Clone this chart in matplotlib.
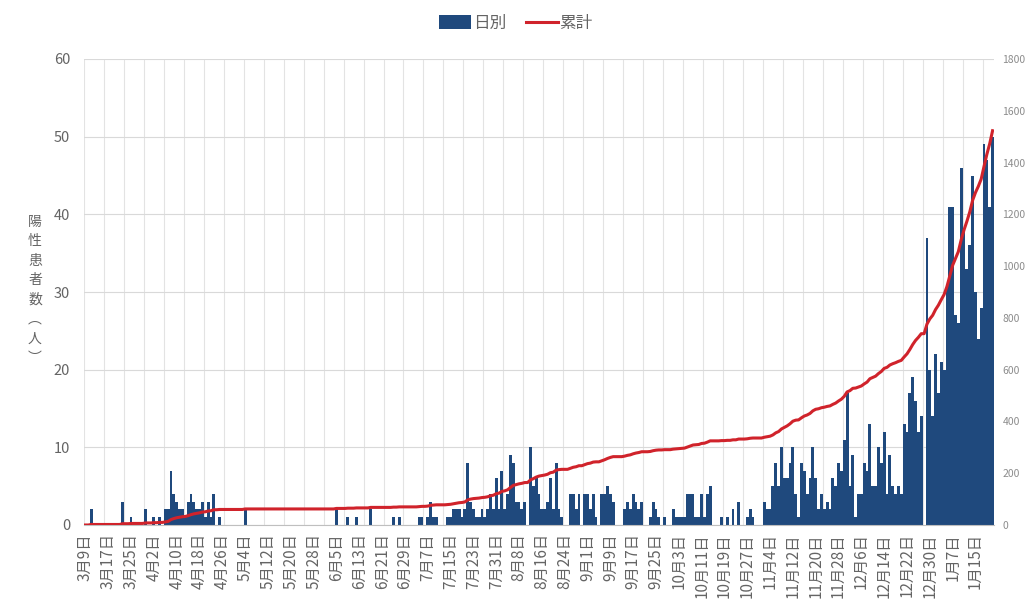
import numpy as np
import pandas as pd
import matplotlib
matplotlib.use('Agg')
import matplotlib.pyplot as plt
from matplotlib.patches import Patch
from matplotlib.lines import Line2D

plt.rcParams['font.family'] = ['Noto Sans CJK JP', 'DejaVu Sans']

# daily positives, 2020-03-09 .. 2021-01-21
start_date = '2020-03-09'
mar = [0, 0, 2, 0, 0, 0, 0, 0, 0, 0, 0, 0, 0, 3, 0, 0, 1, 0, 0, 0, 0, 2, 0]
apr = [0, 1, 0, 1, 0, 2, 2, 7, 4, 3, 2, 2, 1, 3, 4, 3, 2, 2, 3, 1,
       3, 1, 4, 0, 1, 0, 0, 0, 0, 0]
may = [0, 0, 0, 2, 0, 0, 0, 0, 0, 0, 0, 0, 0, 0, 0, 0, 0, 0, 0, 0,
       0, 0, 0, 0, 0, 0, 0, 0, 0, 0, 0]
jun = [0, 0, 0, 0, 2, 0, 0, 0, 1, 0, 0, 1, 0, 0, 0, 0, 2, 0, 0, 0,
       0, 0, 0, 0, 1, 0, 1, 0, 0, 0]
jul = [0, 0, 0, 1, 1, 0, 1, 3, 1, 1, 0, 0, 0, 1, 1, 2, 2, 2, 1, 2,
       8, 3, 2, 1, 1, 2, 1, 2, 4, 2, 6]
aug = [2, 7, 2, 4, 9, 8, 3, 3, 2, 3, 0, 10, 5, 6, 4, 2, 2, 3, 6, 2,
       8, 2, 1, 0, 0, 4, 4, 2, 4, 0, 4]
sep = [4, 2, 4, 1, 0, 4, 4, 5, 4, 3, 0, 0, 0, 2, 3, 2, 4, 3, 2, 3,
       0, 0, 1, 3, 2, 1, 0, 1, 0, 0]
oct_ = [2, 1, 1, 1, 1, 4, 4, 4, 1, 1, 4, 1, 4, 5, 0, 0, 0, 1, 0, 1,
        0, 2, 0, 3, 0, 0, 1, 2, 1, 0, 0]
nov = [0, 3, 2, 2, 5, 8, 5, 10, 6, 6, 8, 10, 4, 1, 8, 7, 4, 6, 10, 6,
       2, 4, 2, 3, 2, 6, 5, 8, 7, 11]
dec = [17, 5, 9, 1, 4, 4, 8, 7, 13, 5, 5, 10, 8, 12, 4, 9, 5, 4, 5, 4,
       13, 12, 17, 19, 16, 12, 14, 0, 37, 20, 14]
jan = [22, 17, 21, 20, 31, 41, 41, 27, 26, 46, 38, 33, 36, 45, 30, 24, 28, 49, 47, 41,
       50]

daily = mar + apr + may + jun + jul + aug + sep + oct_ + nov + dec + jan
dates = pd.date_range(start_date, periods=len(daily))
labels = [f'{d.month}月{d.day}日' for d in dates]
cumulative = np.cumsum(daily)

bar_color = '#1F497D'
line_color = '#D0232B'
text_color = '#646464'

fig = plt.figure(figsize=(10.32, 6.10), dpi=100)
ax = fig.add_axes([84 / 1032, 1 - 525 / 610, 910 / 1032, 466 / 610])

x = np.arange(len(daily))
ax.bar(x, daily, width=1.0, color=bar_color, zorder=2)
ax.set_xlim(-0.5, len(daily) - 0.5)
ax.set_ylim(0, 60)
ax.set_yticks(range(0, 61, 10))
ax.set_xticks(x[::8])
ax.set_xticklabels(labels[::8], rotation=90, fontsize=11, color=text_color)
ax.tick_params(axis='y', length=0, labelsize=10.5, labelcolor=text_color, pad=10)
ax.tick_params(axis='x', length=0, pad=6)

ax.yaxis.grid(True, color='#D9D9D9', lw=0.8, zorder=0)
for xv in np.arange(-0.5, len(daily), 7):
    ax.axvline(xv, color='#E3E3E3', lw=0.8, zorder=0)
ax.set_axisbelow(True)
for s in ['top', 'right', 'left']:
    ax.spines[s].set_visible(False)
ax.spines['bottom'].set_color('#BFBFBF')

ax2 = ax.twinx()
ax2.plot(x, cumulative, color=line_color, lw=2.2, zorder=3)
ax2.set_ylim(0, 1800)
ax2.set_yticks(range(0, 1801, 200))
ax2.tick_params(axis='y', length=0, labelsize=7.5, labelcolor='#8C8C8C', pad=6)
for s in ax2.spines.values():
    s.set_visible(False)

fig.text(35 / 1032, 1 - 290 / 610, '\n'.join('陽性患者数︵人︶'),
         ha='center', va='center', fontsize=10, color=text_color, linespacing=1.5)

handles = [Patch(facecolor=bar_color), Line2D([0], [0], color=line_color, lw=2.2)]
fig.legend(handles, ['日別', '累計'], loc='upper center', bbox_to_anchor=(0.5, 1.0),
           ncol=2, frameon=False, fontsize=12, labelcolor=text_color,
           handlelength=1.9, handleheight=0.9, handletextpad=0.1, columnspacing=1.2)

fig.savefig('out.png', dpi=100)
